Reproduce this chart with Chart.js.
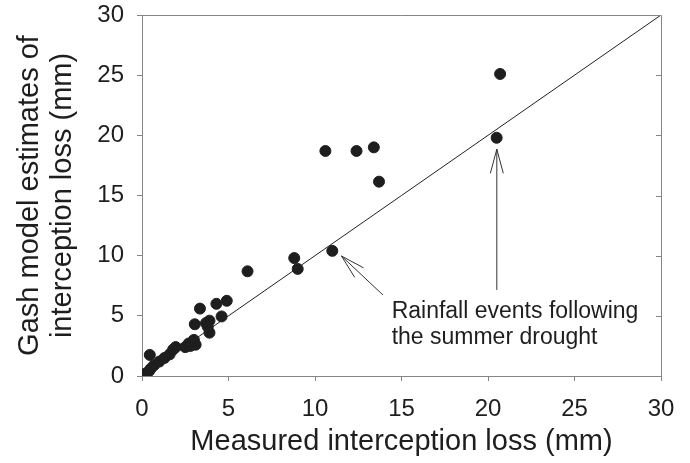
<!DOCTYPE html>
<html>
<head>
<meta charset="utf-8">
<script src="https://cdn.jsdelivr.net/npm/chart.js@4.4.1/dist/chart.umd.min.js"></script>
<style>
  html, body { margin: 0; padding: 0; background: #fff; }
  #wrap { width: 690px; height: 463px; }
</style>
</head>
<body>
<div id="wrap"><canvas id="gashChart" width="690" height="463"></canvas></div>
<script>
// Measured interception loss (mm) vs Gash model estimate (mm)
const measuredLoss = [0.2, 0.4, 0.45, 0.5, 0.7, 1.0, 1.3, 1.6, 1.8, 1.95, 2.5, 2.7, 2.8, 3.0, 3.1, 3.05,
    3.35, 3.7, 3.9, 3.8, 3.9, 4.3, 4.6, 4.9, 6.1, 8.8, 9.0, 10.6, 11.0, 12.4, 13.4, 13.7, 20.5, 20.7];
const gashEstimate = [0.2, 0.4, 1.75, 0.6, 0.9, 1.2, 1.5, 1.8, 2.2, 2.4, 2.4, 2.7, 2.5, 3.0, 2.6, 4.3,
    5.6, 4.4, 4.6, 4.1, 3.6, 6.0, 4.95, 6.25, 8.7, 9.8, 8.9, 18.7, 10.4, 18.7, 19.0, 16.15, 19.8, 25.1];
const oneToOne = [0, 30];
const tickValues = [0, 5, 10, 15, 20, 25, 30];
const noteLines = ['Rainfall events following', 'the summer drought'];

const FONT = "'Liberation Sans', Arial, sans-serif";
const AXIS_GREY = '#858585';
const INK = '#1e1e1e';

const scatterPoints = measuredLoss.map((m, i) => ({ x: m, y: gashEstimate[i] }));
const linePoints = oneToOne.map(v => ({ x: v, y: v }));

// frame (top/right), inward ticks on the right, and the arrow annotation
const framePlugin = {
    id: 'framePlugin',
    afterDatasetsDraw(chart) {
        const { ctx, chartArea: a, scales } = chart;
        const xs = scales.x, ys = scales.y;
        ctx.save();
        ctx.strokeStyle = AXIS_GREY;
        ctx.lineWidth = 1;
        ctx.beginPath();
        ctx.moveTo(a.left, a.top + 0.5);
        ctx.lineTo(a.right + 0.5, a.top + 0.5);
        ctx.lineTo(a.right + 0.5, a.bottom);
        tickValues.forEach(v => {
            const py = Math.round(ys.getPixelForValue(v)) + 0.5;
            ctx.moveTo(a.right, py);
            ctx.lineTo(a.right - 5, py);
        });
        ctx.stroke();

        // arrows
        ctx.strokeStyle = '#333';
        const arrow = (x0, y0, x1, y1) => {
            const px0 = xs.getPixelForValue(x0), py0 = ys.getPixelForValue(y0);
            const px1 = xs.getPixelForValue(x1), py1 = ys.getPixelForValue(y1);
            const ang = Math.atan2(py0 - py1, px0 - px1);
            const len = 25, spread = 15 * Math.PI / 180;
            ctx.beginPath();
            ctx.moveTo(px0, py0);
            ctx.lineTo(px1, py1);
            ctx.moveTo(px1 + len * Math.cos(ang - spread), py1 + len * Math.sin(ang - spread));
            ctx.lineTo(px1, py1);
            ctx.lineTo(px1 + len * Math.cos(ang + spread), py1 + len * Math.sin(ang + spread));
            ctx.stroke();
        };
        arrow(13.93, 6.73, 11.53, 9.97);
        arrow(20.51, 7.15, 20.51, 18.85);

        ctx.fillStyle = INK;
        ctx.font = '23px ' + FONT;
        ctx.textAlign = 'left';
        ctx.textBaseline = 'alphabetic';
        const tx = xs.getPixelForValue(14.43);
        const ty = ys.getPixelForValue(4.82);
        noteLines.forEach((t, i) => ctx.fillText(t, tx, ty + i * 26));
        ctx.restore();
    }
};

new Chart(document.getElementById('gashChart'), {
    type: 'scatter',
    data: {
        datasets: [
            {
                type: 'line',
                data: linePoints,
                borderColor: '#222',
                borderWidth: 1,
                pointRadius: 0,
                fill: false
            },
            {
                data: scatterPoints,
                backgroundColor: INK,
                borderColor: INK,
                pointRadius: 5.5,
                pointHoverRadius: 5.5
            }
        ]
    },
    options: {
        responsive: false,
        animation: false,
        layout: { padding: { top: 15, right: 29, left: 0, bottom: 0 } },
        plugins: { legend: { display: false }, tooltip: { enabled: false } },
        scales: {
            x: {
                type: 'linear',
                min: 0, max: 30,
                afterBuildTicks: s => { s.ticks = tickValues.map(v => ({ value: v })); },
                afterFit: s => { s.height = 87; s.paddingLeft = 0; s.paddingRight = 0; },
                border: { color: AXIS_GREY, width: 1 },
                grid: { drawOnChartArea: false, color: AXIS_GREY, tickLength: 5 },
                ticks: { color: INK, font: { family: FONT, size: 24 }, padding: 14, maxRotation: 0 },
                title: {
                    display: true,
                    text: 'Measured interception loss (mm)',
                    color: INK,
                    font: { family: FONT, size: 29 },
                    padding: { top: 0, bottom: 4 }
                }
            },
            y: {
                type: 'linear',
                min: 0, max: 30,
                afterBuildTicks: s => { s.ticks = tickValues.map(v => ({ value: v })); },
                afterFit: s => { s.width = 142; s.paddingTop = 0; s.paddingBottom = 0; },
                border: { color: AXIS_GREY, width: 1 },
                grid: { drawOnChartArea: false, color: AXIS_GREY, tickLength: 5 },
                ticks: { color: INK, font: { family: FONT, size: 24 }, padding: 13 },
                title: {
                    display: true,
                    text: ['Gash model estimates of', 'interception loss (mm)'],
                    color: INK,
                    font: { family: FONT, size: 29, lineHeight: 1.15 },
                    padding: { top: 13, bottom: 0 }
                }
            }
        }
    },
    plugins: [framePlugin]
});
</script>
</body>
</html>
